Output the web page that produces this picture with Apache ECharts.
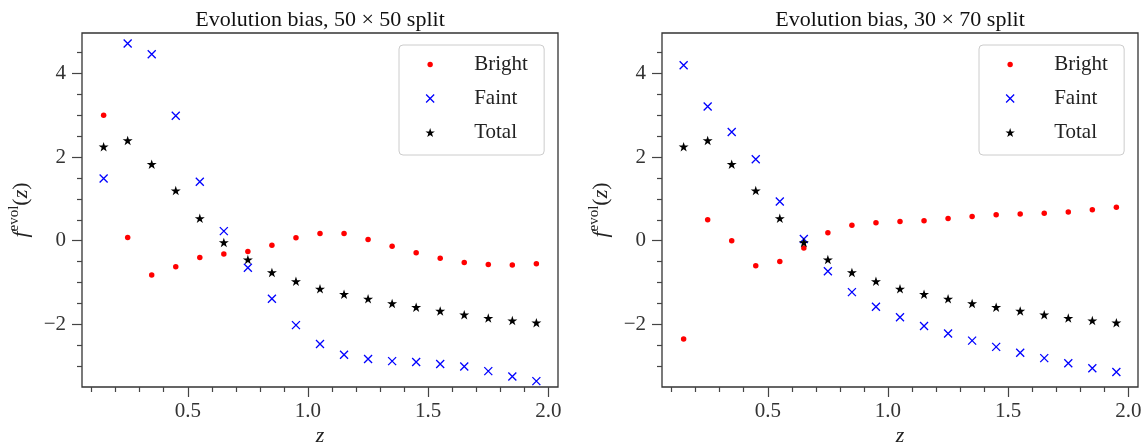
<!DOCTYPE html>
<html><head><meta charset="utf-8">
<script src="https://cdn.jsdelivr.net/npm/echarts@6/dist/echarts.min.js"></script>
<style>html,body{margin:0;padding:0;background:#fff}#c{width:1142px;height:443px}</style>
</head><body><div id="c"></div>
<script>
// ---- data ----
const zValues = [0.15,0.25,0.35,0.45,0.55,0.65,0.75,0.85,0.95,1.05,1.15,1.25,1.35,1.45,1.55,1.65,1.75,1.85,1.95];
const bright5050 = [3.00,0.08,-0.82,-0.62,-0.40,-0.32,-0.26,-0.11,0.07,0.175,0.17,0.03,-0.13,-0.29,-0.42,-0.52,-0.57,-0.58,-0.55];
const faint5050 = [1.49,4.72,4.46,2.99,1.41,0.23,-0.645,-1.39,-2.02,-2.47,-2.73,-2.83,-2.88,-2.90,-2.95,-3.01,-3.12,-3.25,-3.36];
const total5050 = [2.25,2.40,1.83,1.20,0.535,-0.04,-0.45,-0.76,-0.97,-1.15,-1.28,-1.39,-1.50,-1.59,-1.68,-1.77,-1.85,-1.91,-1.96];
const bright3070 = [-2.35,0.50,0.00,-0.60,-0.50,-0.175,0.19,0.37,0.43,0.46,0.48,0.53,0.58,0.62,0.64,0.66,0.69,0.74,0.80];
const faint3070 = [4.20,3.21,2.60,1.95,0.94,0.04,-0.73,-1.23,-1.58,-1.83,-2.04,-2.22,-2.39,-2.54,-2.68,-2.81,-2.93,-3.05,-3.14];
const total3070 = [2.25,2.40,1.83,1.20,0.535,-0.04,-0.45,-0.76,-0.97,-1.15,-1.28,-1.39,-1.50,-1.59,-1.68,-1.77,-1.85,-1.91,-1.96];
const titles = ['Evolution bias, 50 × 50 split', 'Evolution bias, 30 × 70 split'];
const seriesNames = ['Bright', 'Faint', 'Total'];
const xMajorTicks = [0.5, 1.0, 1.5, 2.0];
const xMinorTicks = [0.1,0.2,0.3,0.4,0.6,0.7,0.8,0.9,1.1,1.2,1.3,1.4,1.6,1.7,1.8,1.9];
const yMajorTicks = [-2, 0, 2, 4];
const yMinorTicks = [-3,-2.5,-1.5,-1,-0.5,0.5,1,1.5,2.5,3,3.5,4.5];

// ---- style / layout ----
const FONT = 'Liberation Serif';
const X_MIN = 0.06, X_MAX = 2.04, Y_MIN = -3.5, Y_MAX = 4.97;
const gridLefts = [82, 662];
const GRID_TOP = 33, GRID_W = 476, GRID_H = 354;
const starPath = 'path://M50,0L61.23,34.55L97.55,34.55L68.17,55.9L79.39,90.45L50,69.1L20.61,90.45L31.83,55.9L2.45,34.55L38.77,34.55Z';
const crossPath = 'path://M0,0L100,100M100,0L0,100';
const crossIcon = 'path://M-6,-6L-6,-6M106,106L106,106M0,0L100,100M100,0L0,100';
const dotIcon = 'path://M0,0L0,0M100,100L100,100M50,20A30,30,0,1,1,50,80A30,30,0,1,1,50,20Z';
const COL = { Bright: '#ff0000', Faint: '#0000ff', Total: '#000000' };

const fmtY = v => (v < 0 ? '\u2212' + Math.abs(v) : String(v));
const tickLine = { color: '#444', width: 1.2 };

const grids = [], xAxes = [], yAxes = [], series = [], legends = [], graphics = [];
const datasets = [
  [bright5050, faint5050, total5050],
  [bright3070, faint3070, total3070]
];

gridLefts.forEach((gl, g) => {
  grids.push({ left: gl, top: GRID_TOP, width: GRID_W, height: GRID_H, show: true,
    outerBoundsMode: 'none', containLabel: false,
    borderColor: '#333', borderWidth: 1.3, backgroundColor: 'transparent' });
  // major x
  xAxes.push({ gridIndex: g, type: 'value', min: X_MIN, max: X_MAX,
    axisLine: { show: false, onZero: false }, splitLine: { show: false },
    axisTick: { show: true, customValues: xMajorTicks, length: 10, lineStyle: tickLine },
    axisLabel: { customValues: xMajorTicks, formatter: v => v.toFixed(1), margin: 14,
      fontFamily: FONT, fontSize: 21, color: '#333' },
    name: 'z', nameLocation: 'middle', nameGap: 38, nameMoveOverlap: false,
    nameTextStyle: { fontFamily: FONT, fontStyle: 'italic', fontSize: 22, color: '#222' } });
  // minor x
  xAxes.push({ gridIndex: g, type: 'value', min: X_MIN, max: X_MAX, position: 'bottom',
    axisLine: { show: false, onZero: false }, splitLine: { show: false },
    axisTick: { show: true, customValues: xMinorTicks, length: 5, lineStyle: tickLine },
    axisLabel: { show: false } });
  // major y
  yAxes.push({ gridIndex: g, type: 'value', min: Y_MIN, max: Y_MAX,
    axisLine: { show: false, onZero: false }, splitLine: { show: false },
    axisTick: { show: true, customValues: yMajorTicks, length: 10, lineStyle: tickLine },
    axisLabel: { customValues: yMajorTicks, formatter: fmtY, margin: 16,
      fontFamily: FONT, fontSize: 21, color: '#333' },
    name: '{f|f}{s|evol}{p|(}{i|z}{p|)}', nameLocation: 'middle', nameGap: 47, nameRotate: 90,
    nameMoveOverlap: false,
    nameTextStyle: { color: '#222', rich: {
      f: { fontFamily: FONT, fontStyle: 'italic', fontSize: 22, lineHeight: 28, color: '#222' },
      s: { fontFamily: FONT, fontSize: 15, lineHeight: 15, verticalAlign: 'top', color: '#222' },
      p: { fontFamily: FONT, fontSize: 22, lineHeight: 28, color: '#222' },
      i: { fontFamily: FONT, fontStyle: 'italic', fontSize: 22, lineHeight: 28, color: '#222' }
    } } });
  // minor y
  yAxes.push({ gridIndex: g, type: 'value', min: Y_MIN, max: Y_MAX, position: 'left',
    axisLine: { show: false, onZero: false }, splitLine: { show: false },
    axisTick: { show: true, customValues: yMinorTicks, length: 5, lineStyle: tickLine },
    axisLabel: { show: false } });

  const xi = g * 2, yi = g * 2;
  const [b, f, t] = datasets[g];
  series.push({ type: 'scatter', name: 'Bright', xAxisIndex: xi, yAxisIndex: yi,
    data: zValues.map((z, i) => [z, b[i]]), symbol: 'circle', symbolSize: 5.5,
    itemStyle: { color: COL.Bright, opacity: 1 } });
  series.push({ type: 'scatter', name: 'Faint', xAxisIndex: xi, yAxisIndex: yi,
    data: zValues.map((z, i) => [z, f[i]]), symbol: crossPath, symbolSize: 8,
    itemStyle: { color: COL.Faint, borderColor: COL.Faint, borderWidth: 1.3, opacity: 1 } });
  series.push({ type: 'scatter', name: 'Total', xAxisIndex: xi, yAxisIndex: yi,
    data: zValues.map((z, i) => [z, t[i]]), symbol: starPath, symbolSize: 10, symbolKeepAspect: true,
    itemStyle: { color: COL.Total, opacity: 1 } });

  legends.push({ left: gl + 317, top: 45, orient: 'vertical', selectedMode: false,
    itemWidth: 14, itemHeight: 9, itemGap: 13, padding: [9, 11, 12, 26],
    backgroundColor: 'rgba(255,255,255,0.8)', borderColor: '#cccccc', borderWidth: 1, borderRadius: 4,
    textStyle: { fontFamily: FONT, fontSize: 21, color: '#222', width: 59, lineHeight: 20, padding: [0, 0, 0, 32] },
    data: [
      { name: 'Bright', icon: dotIcon, itemStyle: { color: COL.Bright, borderWidth: 0 } },
      { name: 'Faint', icon: crossIcon, itemStyle: { color: COL.Faint, borderColor: COL.Faint, borderWidth: 1.3 } },
      { name: 'Total', icon: starPath, itemStyle: { color: COL.Total, borderWidth: 0 } }
    ] });

  graphics.push({ type: 'text', x: gl + GRID_W / 2, y: 20,
    style: { text: titles[g], font: '22px "' + FONT + '"', fill: '#111', align: 'center', verticalAlign: 'middle' } });
});

const chart = echarts.init(document.getElementById('c'), null, { renderer: 'canvas' });
chart.setOption({
  animation: false,
  backgroundColor: '#ffffff',
  grid: grids, xAxis: xAxes, yAxis: yAxes, series, legend: legends, graphic: graphics
});
</script>
</body></html>
